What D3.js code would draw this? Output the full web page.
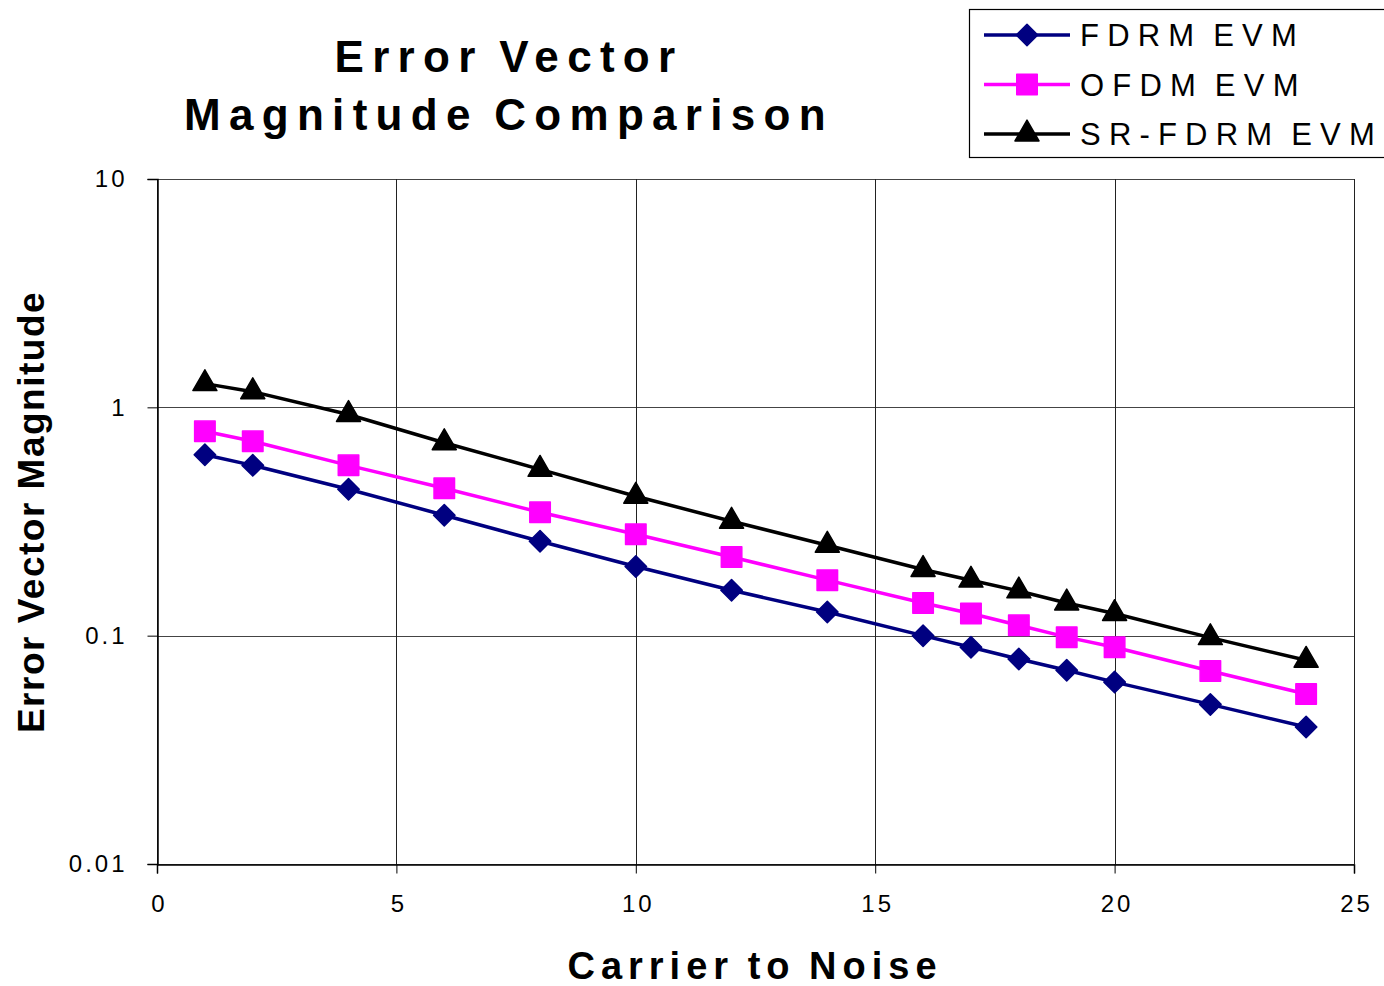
<!DOCTYPE html>
<html lang="en">
<head>
    <meta charset="UTF-8">
    <title>Error Vector Magnitude Comparison</title>
    <script src="https://d3js.org/d3.v7.min.js"></script>
    <style>
        body { margin: 0; background: #fff; }
        text { font-family: "Liberation Sans", Arial, sans-serif; }
    </style>
</head>
<body>
    <div id="chart"></div>

    <script>
        // carrier to noise values
        var cn = [1, 2, 4, 6, 8, 10, 12, 14, 16, 17, 18, 19, 20, 22, 24];

        var fdrm = [0.62, 0.557, 0.438, 0.337, 0.259, 0.201, 0.158, 0.127, 0.1, 0.089, 0.079, 0.0706, 0.0626, 0.05, 0.0398];
        var ofdm = [0.785, 0.71, 0.557, 0.442, 0.347, 0.278, 0.221, 0.175, 0.139, 0.125, 0.111, 0.0985, 0.089, 0.07, 0.0555];
        var srfdrm = [1.27, 1.17, 0.93, 0.70, 0.535, 0.408, 0.317, 0.249, 0.195, 0.175, 0.157, 0.139, 0.125, 0.098, 0.078];

        var xTicks = [0, 5, 10, 15, 20, 25];
        var yTicks = [0.01, 0.1, 1, 10];

        // square turned 45 degrees (wider than d3's own diamond)
        var wideDiamond = {
            draw: function(context, size) {
                var r = Math.sqrt(size / 2);
                context.moveTo(0, -r);
                context.lineTo(r, 0);
                context.lineTo(0, r);
                context.lineTo(-r, 0);
                context.closePath();
            }
        };

        var series = [
            {name: "FDRM EVM", values: fdrm, color: "#000080", symbol: wideDiamond, size: 230},
            {name: "OFDM EVM", values: ofdm, color: "#ff00ff", symbol: d3.symbolSquare, size: 420},
            {name: "SR-FDRM EVM", values: srfdrm, color: "#000000", symbol: d3.symbolTriangle, size: 250}
        ];

        var width = 1384,
            height = 986;

        var plotL = 157, plotR = 1354, plotT = 179, plotB = 864;

        var x = d3.scaleLinear().domain([0, 25]).range([plotL, plotR]);
        var y = d3.scaleLog().domain([0.01, 10]).range([plotB, plotT]);

        var svg = d3.select("#chart").append("svg")
            .attr("width", width)
            .attr("height", height);

        // gridlines
        svg.append("g").selectAll("line")
            .data(yTicks)
            .join("line")
            .attr("x1", plotL).attr("x2", plotR)
            .attr("y1", function(d) { return Math.round(y(d)) + 0.5; })
            .attr("y2", function(d) { return Math.round(y(d)) + 0.5; })
            .attr("stroke", "#444").attr("stroke-width", 1);

        svg.append("g").selectAll("line")
            .data(xTicks)
            .join("line")
            .attr("y1", plotT).attr("y2", plotB)
            .attr("x1", function(d) { return Math.round(x(d)) + 0.5; })
            .attr("x2", function(d) { return Math.round(x(d)) + 0.5; })
            .attr("stroke", "#222").attr("stroke-width", 1);

        // axes
        var xAxis = svg.append("g")
            .attr("transform", "translate(0," + (plotB + 0.5) + ")")
            .call(d3.axisBottom(x).tickValues(xTicks).tickSize(9).tickPadding(21).tickFormat(d3.format("d")));

        var yAxis = svg.append("g")
            .attr("transform", "translate(" + (plotL + 0.5) + ",0)")
            .call(d3.axisLeft(y).tickValues(yTicks).tickSize(10).tickPadding(20).tickFormat(function(d) { return String(d); }));

        [xAxis, yAxis].forEach(function(a) {
            a.select(".domain").attr("stroke", "#000").attr("stroke-width", 1.5);
            a.selectAll(".tick line").attr("stroke", "#000");
            a.selectAll(".tick text")
                .attr("fill", "#000")
                .style("font-size", "24px")
                .style("letter-spacing", "3px")
                .style("font-family", "'Liberation Sans', Arial, sans-serif");
        });
        xAxis.selectAll(".tick text").attr("dx", "2px");

        // series lines and markers
        var line = d3.line()
            .x(function(d) { return x(d[0]); })
            .y(function(d) { return y(d[1]); });

        series.forEach(function(s) {
            var pts = cn.map(function(c, i) { return [c, s.values[i]]; });
            svg.append("path")
                .datum(pts)
                .attr("fill", "none")
                .attr("stroke", s.color)
                .attr("stroke-width", 3.5)
                .attr("d", line);

            svg.append("g").selectAll("path")
                .data(pts)
                .join("path")
                .attr("transform", function(d) { return "translate(" + x(d[0]) + "," + y(d[1]) + ")"; })
                .attr("d", d3.symbol().type(s.symbol).size(s.size))
                .attr("fill", s.color)
                .attr("stroke", s.color)
                .attr("stroke-width", 1.5)
                .attr("stroke-linejoin", "round");
        });

        // title
        var title = svg.append("text")
            .attr("text-anchor", "middle")
            .style("font-size", "44px")
            .style("font-weight", "bold")
            .style("letter-spacing", "8.3px")
            .style("word-spacing", "-5px");
        title.append("tspan").attr("x", 509).attr("y", 72).text("Error Vector");
        title.append("tspan").attr("x", 509).attr("y", 130).text("Magnitude Comparison");

        // axis titles
        svg.append("text")
            .attr("x", 755).attr("y", 979)
            .attr("text-anchor", "middle")
            .style("font-size", "38px")
            .style("font-weight", "bold")
            .style("letter-spacing", "6px")
            .style("word-spacing", "-3px")
            .text("Carrier to Noise");

        svg.append("text")
            .attr("transform", "translate(44,512) rotate(-90)")
            .attr("text-anchor", "middle")
            .style("font-size", "37px")
            .style("font-weight", "bold")
            .style("letter-spacing", "1.5px")
            .text("Error Vector Magnitude");

        // legend
        var legend = svg.append("g");
        legend.append("rect")
            .attr("x", 969.5).attr("y", 9.5)
            .attr("width", 430).attr("height", 148)
            .attr("fill", "#fff").attr("stroke", "#000").attr("stroke-width", 1.2);

        series.forEach(function(s, i) {
            var ly = 35 + i * 49.5;
            var g = legend.append("g");
            g.append("line")
                .attr("x1", 984).attr("x2", 1070)
                .attr("y1", ly).attr("y2", ly)
                .attr("stroke", s.color).attr("stroke-width", 3.5);
            g.append("path")
                .attr("transform", "translate(1027," + ly + ")")
                .attr("d", d3.symbol().type(s.symbol).size(s.size))
                .attr("fill", s.color)
                .attr("stroke", s.color)
                .attr("stroke-width", 1.5)
                .attr("stroke-linejoin", "round");
            g.append("text")
                .attr("x", 1080).attr("y", ly + 11)
                .style("font-size", "31px")
                .style("letter-spacing", "8.2px")
                .style("word-spacing", "-6px")
                .text(s.name);
        });
    </script>
</body>
</html>
